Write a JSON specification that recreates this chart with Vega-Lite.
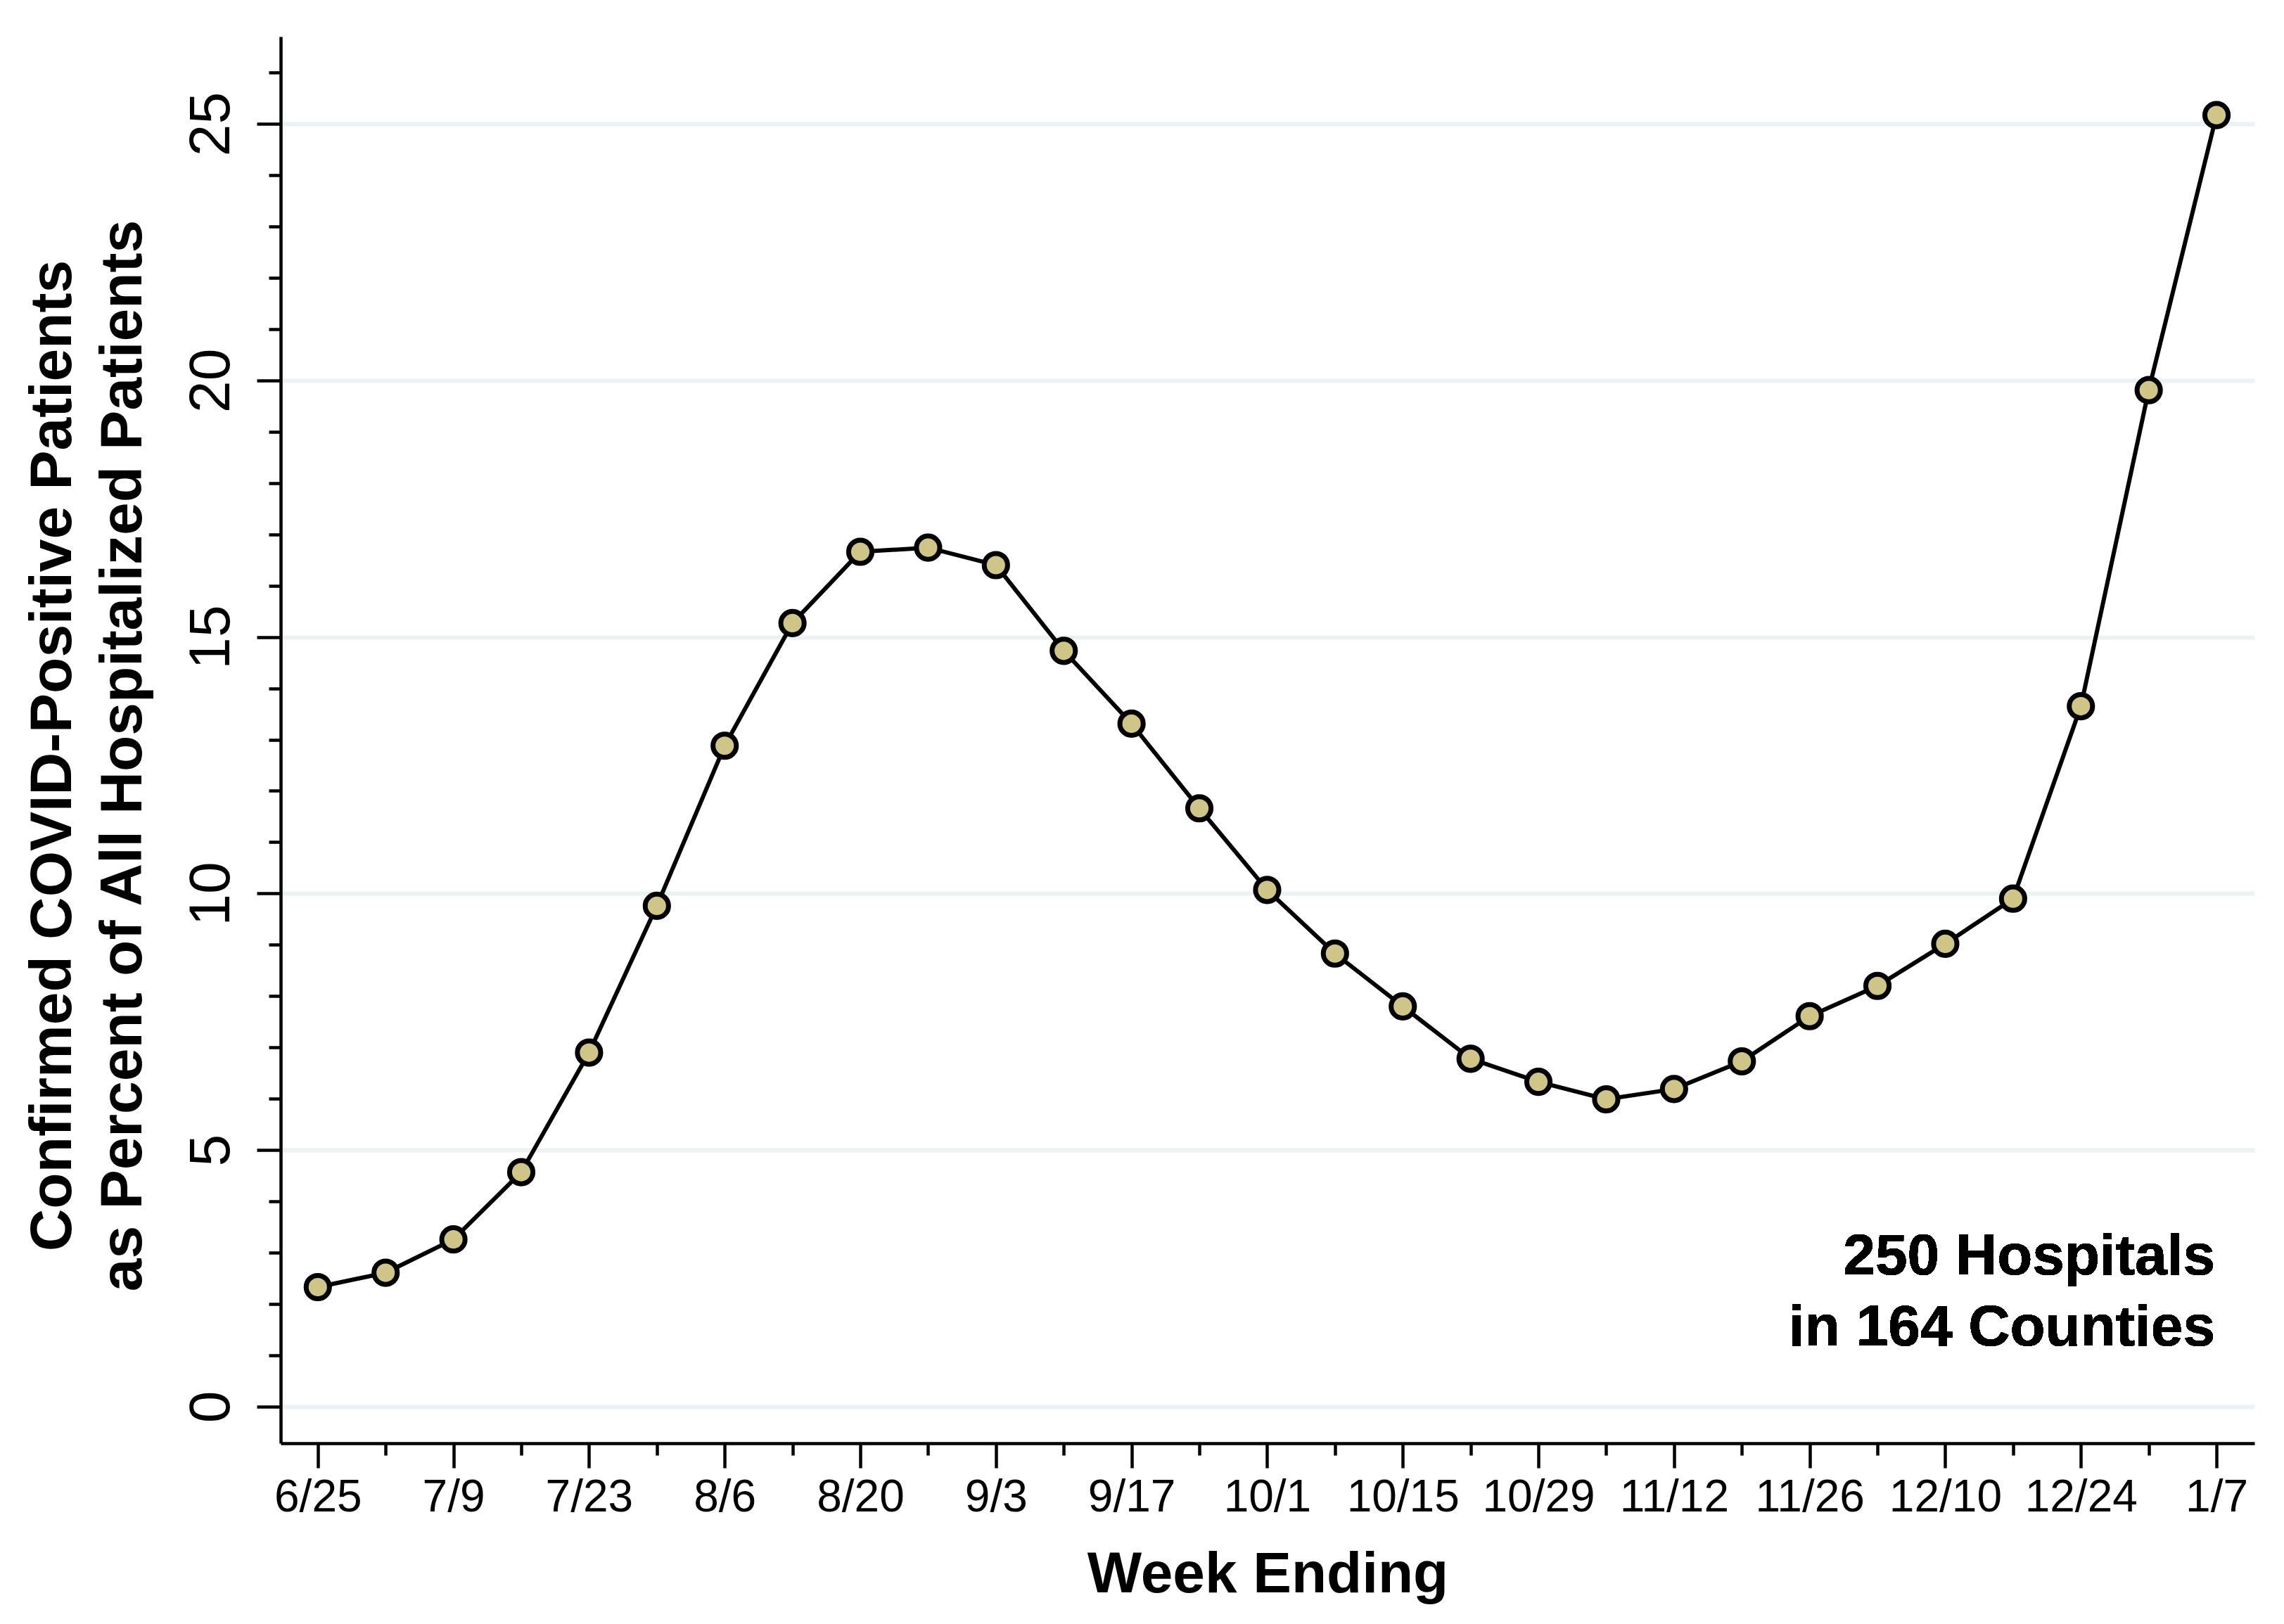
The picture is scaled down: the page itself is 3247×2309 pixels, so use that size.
{
  "$schema": "https://vega.github.io/schema/vega-lite/v6.json",
  "width": 2806,
  "height": 2000,
  "autosize": {"type": "none"},
  "padding": {"left": 399, "top": 52, "right": 42, "bottom": 257},
  "background": "white",
  "config": {
    "view": {"stroke": null},
    "font": "Liberation Sans",
    "axis": {
      "domainColor": "black",
      "domainWidth": 4.5,
      "tickColor": "black",
      "tickWidth": 4.5,
      "labelColor": "black",
      "titleColor": "black",
      "labelFont": "Liberation Sans",
      "titleFont": "Liberation Sans"
    }
  },
  "data": {
    "values": [
      {"week": "2021-06-25", "pct": 2.33},
      {"week": "2021-07-02", "pct": 2.61},
      {"week": "2021-07-09", "pct": 3.26},
      {"week": "2021-07-16", "pct": 4.57},
      {"week": "2021-07-23", "pct": 6.90},
      {"week": "2021-07-30", "pct": 9.76},
      {"week": "2021-08-06", "pct": 12.88},
      {"week": "2021-08-13", "pct": 15.27},
      {"week": "2021-08-20", "pct": 16.66},
      {"week": "2021-08-27", "pct": 16.74},
      {"week": "2021-09-03", "pct": 16.40},
      {"week": "2021-09-10", "pct": 14.73},
      {"week": "2021-09-17", "pct": 13.31},
      {"week": "2021-09-24", "pct": 11.66},
      {"week": "2021-10-01", "pct": 10.07},
      {"week": "2021-10-08", "pct": 8.83},
      {"week": "2021-10-15", "pct": 7.80},
      {"week": "2021-10-22", "pct": 6.78},
      {"week": "2021-10-29", "pct": 6.33},
      {"week": "2021-11-05", "pct": 5.99},
      {"week": "2021-11-12", "pct": 6.19},
      {"week": "2021-11-19", "pct": 6.73},
      {"week": "2021-11-26", "pct": 7.61},
      {"week": "2021-12-03", "pct": 8.20},
      {"week": "2021-12-10", "pct": 9.02},
      {"week": "2021-12-17", "pct": 9.90},
      {"week": "2021-12-24", "pct": 13.65},
      {"week": "2021-12-31", "pct": 19.81},
      {"week": "2022-01-07", "pct": 25.17}
    ]
  },
  "encoding": {
    "x": {
      "field": "week",
      "type": "temporal",
      "scale": {
        "type": "utc",
        "domain": [
          {"year": 2021, "month": 6, "date": 21, "hours": 4, "utc": true},
          {"year": 2022, "month": 1, "date": 10, "hours": 22, "utc": true}
        ]
      }
    },
    "y": {
      "field": "pct",
      "type": "quantitative",
      "scale": {"domain": [-0.713, 26.7], "nice": false, "zero": false}
    }
  },
  "layer": [
    {
      "mark": {"type": "line", "color": "black", "strokeWidth": 6},
      "encoding": {
        "x": {
          "field": "week",
          "type": "temporal",
          "axis": {
            "orient": "bottom",
            "title": "Week Ending",
            "titleFontSize": 82,
            "titleFontWeight": "bold",
            "titleBaseline": "alphabetic",
            "titleY": 211,
            "format": "%-m/%-d",
            "values": [
              {"year": 2021, "month": 6, "date": 25, "utc": true},
              {"year": 2021, "month": 7, "date": 9, "utc": true},
              {"year": 2021, "month": 7, "date": 23, "utc": true},
              {"year": 2021, "month": 8, "date": 6, "utc": true},
              {"year": 2021, "month": 8, "date": 20, "utc": true},
              {"year": 2021, "month": 9, "date": 3, "utc": true},
              {"year": 2021, "month": 9, "date": 17, "utc": true},
              {"year": 2021, "month": 10, "date": 1, "utc": true},
              {"year": 2021, "month": 10, "date": 15, "utc": true},
              {"year": 2021, "month": 10, "date": 29, "utc": true},
              {"year": 2021, "month": 11, "date": 12, "utc": true},
              {"year": 2021, "month": 11, "date": 26, "utc": true},
              {"year": 2021, "month": 12, "date": 10, "utc": true},
              {"year": 2021, "month": 12, "date": 24, "utc": true},
              {"year": 2022, "month": 1, "date": 7, "utc": true}
            ],
            "tickSize": 35,
            "labelFontSize": 64,
            "labelBaseline": "alphabetic",
            "labelPadding": 61,
            "labelAngle": 0,
            "labelOverlap": false,
            "labelFlush": false,
            "grid": false
          }
        },
        "y": {
          "field": "pct",
          "type": "quantitative",
          "axis": {
            "orient": "left",
            "title": ["Confirmed COVID-Positive Patients", "as Percent of All Hospitalized Patients"],
            "titleFontSize": 84,
            "titleFontWeight": "bold",
            "titleAngle": -90,
            "titleAlign": "center",
            "titleBaseline": "alphabetic",
            "titleLineHeight": 100,
            "titleX": -299,
            "titleY": 1022,
            "values": [0, 5, 10, 15, 20, 25],
            "tickSize": 34,
            "labelFontSize": 82,
            "labelAngle": -90,
            "labelAlign": "center",
            "labelBaseline": "alphabetic",
            "labelPadding": 40,
            "labelFlush": false,
            "labelOverlap": false,
            "grid": true,
            "gridColor": "#eaf2f3",
            "gridWidth": 6
          }
        }
      }
    },
    {
      "mark": {"type": "point", "shape": "circle", "filled": true, "fill": "#cec587", "stroke": "black", "strokeWidth": 7, "size": 1100, "opacity": 1},
      "encoding": {
        "x": {
          "field": "week",
          "type": "temporal",
          "axis": {
            "orient": "bottom",
            "title": null,
            "labels": false,
            "domain": false,
            "grid": false,
            "tickSize": 17,
            "values": [
              {"year": 2021, "month": 7, "date": 2, "utc": true},
              {"year": 2021, "month": 7, "date": 16, "utc": true},
              {"year": 2021, "month": 7, "date": 30, "utc": true},
              {"year": 2021, "month": 8, "date": 13, "utc": true},
              {"year": 2021, "month": 8, "date": 27, "utc": true},
              {"year": 2021, "month": 9, "date": 10, "utc": true},
              {"year": 2021, "month": 9, "date": 24, "utc": true},
              {"year": 2021, "month": 10, "date": 8, "utc": true},
              {"year": 2021, "month": 10, "date": 22, "utc": true},
              {"year": 2021, "month": 11, "date": 5, "utc": true},
              {"year": 2021, "month": 11, "date": 19, "utc": true},
              {"year": 2021, "month": 12, "date": 3, "utc": true},
              {"year": 2021, "month": 12, "date": 17, "utc": true},
              {"year": 2021, "month": 12, "date": 31, "utc": true}
            ]
          }
        },
        "y": {
          "field": "pct",
          "type": "quantitative",
          "axis": {
            "orient": "left",
            "title": null,
            "labels": false,
            "domain": false,
            "grid": false,
            "tickSize": 17,
            "values": [1, 2, 3, 4, 6, 7, 8, 9, 11, 12, 13, 14, 16, 17, 18, 19, 21, 22, 23, 24, 26]
          }
        }
      }
    },
    {
      "mark": {
        "type": "text",
        "text": ["250 Hospitals", "in 164 Counties"],
        "align": "right",
        "baseline": "alphabetic",
        "fontSize": 82,
        "fontWeight": "bold",
        "lineHeight": 101,
        "color": "black",
        "dx": -2
      },
      "encoding": {
        "x": {"datum": {"year": 2022, "month": 1, "date": 7, "utc": true}, "type": "temporal", "axis": null},
        "y": {"datum": 2.577, "type": "quantitative", "axis": null}
      }
    }
  ],
  "resolve": {"axis": {"x": "independent", "y": "independent"}}
}
